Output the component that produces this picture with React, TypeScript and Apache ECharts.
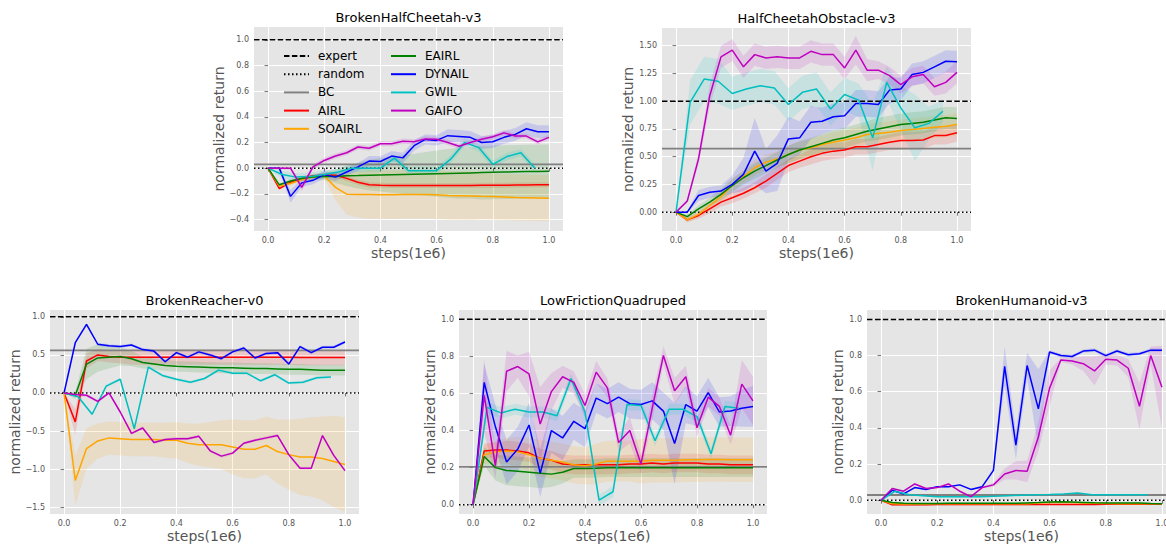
import React, { useEffect, useRef } from "react";
import * as echarts from "echarts";

// ---------- shared ----------
const X04 = [0, 0.04, 0.08, 0.12, 0.16, 0.2, 0.24, 0.28, 0.32, 0.36, 0.4, 0.44, 0.48, 0.52, 0.56, 0.6, 0.64, 0.68, 0.72, 0.76, 0.8, 0.84, 0.88, 0.92, 0.96, 1.0];
const X05 = [0, 0.05, 0.1, 0.15, 0.2, 0.25, 0.3, 0.35, 0.4, 0.45, 0.5, 0.55, 0.6, 0.65, 0.7, 0.75, 0.8, 0.85, 0.9, 0.95];
const X_TICKS = [0, 0.2, 0.4, 0.6, 0.8, 1.0];
const EXPERT = 1.0;
const RANDOM = 0.0;
const METHODS = ["AIRL", "SOAIRL", "EAIRL", "DYNAIL", "GWIL", "GAIFO"];
const COLORS: Record<string, string> = {
  AIRL: "#ff0000",
  SOAIRL: "#ffa500",
  EAIRL: "#008000",
  DYNAIL: "#0000ff",
  GWIL: "#00bfbf",
  GAIFO: "#bf00bf",
};

// ---------- BrokenHalfCheetah-v3 ----------
const cheetahTicks = [-0.4, -0.2, 0, 0.2, 0.4, 0.6, 0.8, 1.0];
const cheetahBC = 0.03;
const cheetahAIRL = [0, -0.16, -0.11, -0.08, -0.06, -0.055, -0.055, -0.08, -0.11, -0.13, -0.133, -0.135, -0.135, -0.135, -0.135, -0.135, -0.135, -0.135, -0.135, -0.134, -0.134, -0.133, -0.132, -0.131, -0.13, -0.13];
const cheetahAIRLStd = [0, 0.01, 0.015, 0.015, 0.015, 0.015, 0.02, 0.02, 0.02, 0.02, 0.02, 0.02, 0.02, 0.02, 0.02, 0.02, 0.02, 0.02, 0.02, 0.02, 0.02, 0.02, 0.02, 0.02, 0.02, 0.02];
const cheetahSOAIRL = [0, -0.14, -0.12, -0.09, -0.07, -0.06, -0.15, -0.203, -0.205, -0.205, -0.207, -0.207, -0.205, -0.205, -0.205, -0.207, -0.213, -0.215, -0.217, -0.22, -0.222, -0.225, -0.228, -0.23, -0.232, -0.234];
const cheetahSOAIRLStd = [0, 0.01, 0.015, 0.015, 0.015, 0.02, 0.1, 0.16, 0.18, 0.19, 0.19, 0.19, 0.19, 0.19, 0.19, 0.19, 0.19, 0.19, 0.19, 0.18, 0.18, 0.18, 0.18, 0.18, 0.18, 0.18];
const cheetahEAIRL = [0, -0.13, -0.1, -0.08, -0.07, -0.065, -0.065, -0.06, -0.058, -0.055, -0.053, -0.051, -0.049, -0.047, -0.045, -0.043, -0.041, -0.039, -0.037, -0.035, -0.033, -0.031, -0.029, -0.027, -0.026, -0.025];
const cheetahEAIRLStd = [0, 0.01, 0.015, 0.02, 0.02, 0.03, 0.05, 0.08, 0.1, 0.12, 0.13, 0.14, 0.15, 0.16, 0.17, 0.18, 0.19, 0.2, 0.2, 0.21, 0.21, 0.21, 0.21, 0.21, 0.21, 0.21];
const cheetahDYNAIL = [0, 0, -0.22, -0.115, -0.095, -0.05, -0.07, -0.03, 0.01, 0.055, 0.052, 0.094, 0.08, 0.175, 0.224, 0.216, 0.253, 0.247, 0.24, 0.2, 0.206, 0.24, 0.263, 0.307, 0.284, 0.284];
const cheetahDYNAILStd = [0, 0.01, 0.05, 0.03, 0.03, 0.03, 0.03, 0.03, 0.03, 0.04, 0.04, 0.04, 0.04, 0.04, 0.04, 0.04, 0.05, 0.05, 0.05, 0.05, 0.05, 0.05, 0.05, 0.05, 0.05, 0.05];
const cheetahGWIL = [0, -0.05, -0.07, -0.065, -0.05, -0.03, 0.0, 0.0, 0.0, 0.078, -0.02, -0.02, -0.02, 0.07, 0.2, 0.16, 0.03, 0.09, 0.12, 0.0];
const cheetahGWILStd = [0, 0.03, 0.03, 0.03, 0.03, 0.03, 0.03, 0.03, 0.03, 0.03, 0.03, 0.03, 0.03, 0.03, 0.03, 0.03, 0.03, 0.03, 0.03, 0.03];
const cheetahGAIFO = [0, 0, 0, -0.15, 0.01, 0.06, 0.095, 0.12, 0.165, 0.155, 0.19, 0.19, 0.21, 0.205, 0.228, 0.225, 0.2, 0.17, 0.2, 0.225, 0.245, 0.275, 0.25, 0.25, 0.205, 0.24];
const cheetahGAIFOStd = [0, 0.01, 0.01, 0.03, 0.02, 0.02, 0.02, 0.02, 0.02, 0.02, 0.02, 0.02, 0.02, 0.02, 0.02, 0.02, 0.02, 0.02, 0.02, 0.02, 0.02, 0.02, 0.02, 0.02, 0.02, 0.02];

// ---------- HalfCheetahObstacle-v3 ----------
const obstacleTicks = [0, 0.25, 0.5, 0.75, 1.0, 1.25, 1.5];
const obstacleBC = 0.572;
const obstacleAIRL = [0, -0.07, -0.03, 0.03, 0.09, 0.13, 0.17, 0.22, 0.28, 0.35, 0.42, 0.46, 0.5, 0.53, 0.55, 0.56, 0.59, 0.59, 0.61, 0.63, 0.645, 0.645, 0.65, 0.69, 0.69, 0.715];
const obstacleAIRLStd = [0, 0.02, 0.03, 0.04, 0.04, 0.05, 0.05, 0.05, 0.06, 0.06, 0.06, 0.06, 0.07, 0.07, 0.07, 0.07, 0.07, 0.07, 0.07, 0.07, 0.08, 0.08, 0.08, 0.08, 0.08, 0.08];
const obstacleSOAIRL = [0, -0.07, -0.02, 0.06, 0.14, 0.24, 0.32, 0.4, 0.45, 0.48, 0.52, 0.56, 0.58, 0.61, 0.63, 0.65, 0.67, 0.7, 0.71, 0.72, 0.735, 0.745, 0.755, 0.765, 0.775, 0.79];
const obstacleSOAIRLStd = [0, 0.02, 0.03, 0.04, 0.05, 0.06, 0.06, 0.07, 0.07, 0.07, 0.08, 0.08, 0.08, 0.08, 0.09, 0.09, 0.09, 0.09, 0.1, 0.1, 0.1, 0.1, 0.1, 0.1, 0.1, 0.1];
const obstacleEAIRL = [0, -0.04, 0.03, 0.09, 0.16, 0.24, 0.31, 0.37, 0.42, 0.47, 0.52, 0.56, 0.59, 0.62, 0.65, 0.67, 0.7, 0.73, 0.75, 0.77, 0.79, 0.8, 0.81, 0.83, 0.85, 0.845];
const obstacleEAIRLStd = [0, 0.02, 0.03, 0.04, 0.05, 0.06, 0.06, 0.07, 0.07, 0.07, 0.08, 0.08, 0.08, 0.08, 0.09, 0.09, 0.09, 0.09, 0.1, 0.1, 0.1, 0.1, 0.1, 0.1, 0.1, 0.1];
const obstacleDYNAIL = [0, 0, 0.15, 0.18, 0.19, 0.25, 0.34, 0.55, 0.37, 0.44, 0.66, 0.67, 0.81, 0.82, 0.86, 0.87, 0.98, 0.98, 0.97, 1.1, 1.11, 1.24, 1.26, 1.31, 1.36, 1.355];
const obstacleDYNAILStd = [0, 0.01, 0.05, 0.05, 0.05, 0.08, 0.15, 0.3, 0.2, 0.25, 0.2, 0.15, 0.15, 0.12, 0.12, 0.12, 0.12, 0.12, 0.12, 0.12, 0.1, 0.1, 0.1, 0.1, 0.1, 0.1];
const obstacleGWIL = [0, 0.99, 1.2, 1.18, 1.07, 1.11, 1.14, 1.12, 0.97, 1.08, 1.11, 0.93, 1.06, 1.01, 0.67, 1.17, 0.94, 0.76, 0.8, 0.91];
const obstacleGWILStd = [0, 0.2, 0.2, 0.2, 0.15, 0.15, 0.15, 0.15, 0.15, 0.15, 0.15, 0.15, 0.15, 0.15, 0.3, 0.15, 0.2, 0.3, 0.15, 0.1];
const obstacleGAIFO = [0, 0.1, 0.48, 1.05, 1.4, 1.46, 1.31, 1.42, 1.39, 1.4, 1.39, 1.39, 1.45, 1.42, 1.42, 1.3, 1.46, 1.28, 1.28, 1.23, 1.15, 1.22, 1.24, 1.13, 1.17, 1.26];
const obstacleGAIFOStd = [0, 0.02, 0.05, 0.1, 0.1, 0.1, 0.1, 0.1, 0.1, 0.1, 0.1, 0.1, 0.1, 0.1, 0.1, 0.1, 0.13, 0.1, 0.08, 0.08, 0.08, 0.08, 0.08, 0.08, 0.1, 0.1];

// ---------- BrokenReacher-v0 ----------
const reacherTicks = [-1.5, -1.0, -0.5, 0, 0.5, 1.0];
const reacherBC = 0.56;
const reacherAIRL = [0, -0.38, 0.42, 0.5, 0.48, 0.47, 0.47, 0.47, 0.47, 0.47, 0.47, 0.47, 0.47, 0.47, 0.47, 0.47, 0.47, 0.47, 0.47, 0.47, 0.47, 0.465, 0.465, 0.465, 0.465, 0.465];
const reacherAIRLStd = [0, 0.17, 0.1, 0.08, 0.08, 0.08, 0.1, 0.1, 0.1, 0.1, 0.1, 0.1, 0.1, 0.1, 0.1, 0.1, 0.1, 0.1, 0.1, 0.1, 0.1, 0.1, 0.1, 0.1, 0.1, 0.1];
const reacherSOAIRL = [0, -1.15, -0.73, -0.63, -0.59, -0.6, -0.61, -0.61, -0.61, -0.62, -0.62, -0.66, -0.68, -0.68, -0.68, -0.71, -0.74, -0.74, -0.69, -0.77, -0.81, -0.84, -0.84, -0.86, -0.9, -0.94];
const reacherSOAIRLStd = [0, 0.33, 0.27, 0.23, 0.22, 0.22, 0.22, 0.22, 0.22, 0.23, 0.24, 0.26, 0.28, 0.3, 0.32, 0.36, 0.38, 0.38, 0.38, 0.42, 0.46, 0.5, 0.52, 0.55, 0.6, 0.62];
const reacherEAIRL = [0, -0.03, 0.38, 0.46, 0.47, 0.48, 0.45, 0.4, 0.38, 0.36, 0.35, 0.345, 0.34, 0.335, 0.33, 0.33, 0.325, 0.32, 0.32, 0.315, 0.31, 0.31, 0.305, 0.3, 0.3, 0.3];
const reacherEAIRLStd = [0, 0.05, 0.2, 0.18, 0.15, 0.12, 0.1, 0.08, 0.07, 0.07, 0.07, 0.07, 0.07, 0.07, 0.07, 0.07, 0.07, 0.07, 0.07, 0.07, 0.07, 0.07, 0.07, 0.07, 0.07, 0.07];
const reacherDYNAIL = [0, 0.66, 0.9, 0.64, 0.62, 0.61, 0.63, 0.57, 0.55, 0.41, 0.53, 0.47, 0.54, 0.5, 0.45, 0.54, 0.59, 0.46, 0.52, 0.53, 0.38, 0.61, 0.53, 0.6, 0.6, 0.67];
const reacherDYNAILStd = [0, 0.02, 0.02, 0.02, 0.02, 0.02, 0.02, 0.02, 0.02, 0.02, 0.02, 0.02, 0.02, 0.02, 0.02, 0.02, 0.02, 0.02, 0.02, 0.02, 0.02, 0.02, 0.02, 0.02, 0.02, 0.02];
const reacherGWIL = [0, -0.05, -0.28, 0.09, 0.18, -0.47, 0.34, 0.23, 0.18, 0.14, 0.19, 0.3, 0.26, 0.26, 0.16, 0.24, 0.13, 0.14, 0.2, 0.21];
const reacherGWILStd = [0, 0.02, 0.02, 0.02, 0.02, 0.02, 0.02, 0.02, 0.02, 0.02, 0.02, 0.02, 0.02, 0.02, 0.02, 0.02, 0.02, 0.02, 0.02, 0.02];
const reacherGAIFO = [0, -0.02, -0.03, -0.11, 0.0, -0.25, -0.53, -0.46, -0.65, -0.61, -0.6, -0.6, -0.57, -0.76, -0.83, -0.79, -0.66, -0.62, -0.59, -0.56, -0.81, -0.99, -0.99, -0.56, -0.82, -1.02];
const reacherGAIFOStd = [0, 0.02, 0.02, 0.02, 0.02, 0.02, 0.02, 0.02, 0.02, 0.02, 0.02, 0.02, 0.02, 0.02, 0.02, 0.02, 0.02, 0.02, 0.02, 0.02, 0.02, 0.02, 0.02, 0.02, 0.02, 0.02];

// ---------- LowFrictionQuadruped ----------
const quadTicks = [0, 0.2, 0.4, 0.6, 0.8, 1.0];
const quadBC = 0.204;
const quadAIRL = [0, 0.29, 0.295, 0.295, 0.29, 0.28, 0.25, 0.24, 0.22, 0.215, 0.215, 0.215, 0.215, 0.215, 0.22, 0.22, 0.225, 0.22, 0.225, 0.225, 0.225, 0.22, 0.22, 0.215, 0.215, 0.215];
const quadAIRLStd = [0, 0.04, 0.04, 0.05, 0.05, 0.05, 0.05, 0.05, 0.05, 0.05, 0.05, 0.05, 0.05, 0.05, 0.05, 0.05, 0.05, 0.05, 0.05, 0.05, 0.05, 0.05, 0.05, 0.05, 0.05, 0.05];
const quadSOAIRL = [0, 0.27, 0.285, 0.29, 0.285, 0.27, 0.25, 0.24, 0.23, 0.215, 0.21, 0.22, 0.235, 0.235, 0.235, 0.235, 0.24, 0.24, 0.24, 0.242, 0.243, 0.244, 0.244, 0.243, 0.243, 0.243];
const quadSOAIRLStd = [0, 0.05, 0.06, 0.07, 0.08, 0.09, 0.1, 0.1, 0.1, 0.1, 0.1, 0.11, 0.11, 0.11, 0.11, 0.12, 0.12, 0.12, 0.12, 0.12, 0.12, 0.12, 0.12, 0.12, 0.12, 0.12];
const quadEAIRL = [0, 0.26, 0.2, 0.185, 0.18, 0.175, 0.17, 0.165, 0.175, 0.195, 0.195, 0.197, 0.2, 0.2, 0.2, 0.2, 0.2, 0.2, 0.2, 0.2, 0.2, 0.2, 0.2, 0.2, 0.2, 0.2];
const quadEAIRLStd = [0, 0.05, 0.07, 0.08, 0.08, 0.08, 0.08, 0.07, 0.06, 0.05, 0.05, 0.05, 0.05, 0.05, 0.05, 0.05, 0.05, 0.05, 0.05, 0.05, 0.05, 0.05, 0.05, 0.05, 0.05, 0.05];
const quadDYNAIL = [0, 0.66, 0.42, 0.23, 0.3, 0.43, 0.17, 0.4, 0.36, 0.45, 0.41, 0.575, 0.545, 0.58, 0.545, 0.54, 0.56, 0.505, 0.33, 0.54, 0.505, 0.605, 0.5, 0.505, 0.52, 0.53];
const quadDYNAILStd = [0, 0.1, 0.12, 0.12, 0.12, 0.12, 0.13, 0.12, 0.12, 0.1, 0.1, 0.08, 0.08, 0.08, 0.08, 0.08, 0.1, 0.1, 0.22, 0.1, 0.08, 0.08, 0.08, 0.08, 0.1, 0.11];
const quadGWIL = [0, 0.525, 0.495, 0.515, 0.5, 0.5, 0.48, 0.68, 0.5, 0.025, 0.07, 0.54, 0.535, 0.345, 0.515, 0.515, 0.475, 0.275, 0.53, 0.52];
const quadGWILStd = [0, 0.03, 0.03, 0.03, 0.03, 0.03, 0.03, 0.03, 0.03, 0.03, 0.03, 0.03, 0.03, 0.03, 0.03, 0.03, 0.03, 0.03, 0.03, 0.03];
const quadGAIFO = [0, 0.59, 0.21, 0.72, 0.745, 0.705, 0.435, 0.61, 0.69, 0.66, 0.535, 0.715, 0.63, 0.335, 0.4, 0.22, 0.52, 0.805, 0.615, 0.69, 0.415, 0.58, 0.53, 0.375, 0.65, 0.56];
const quadGAIFOStd = [0, 0.2, 0.07, 0.11, 0.06, 0.12, 0.2, 0.1, 0.06, 0.06, 0.06, 0.06, 0.05, 0.05, 0.07, 0.05, 0.07, 0.05, 0.07, 0.06, 0.05, 0.05, 0.05, 0.05, 0.13, 0.13];

// ---------- BrokenHumanoid-v3 ----------
const humanoidTicks = [0, 0.2, 0.4, 0.6, 0.8, 1.0];
const humanoidBC = 0.029;
const humanoidAIRL = [0, -0.025, -0.025, -0.025, -0.025, -0.024, -0.024, -0.024, -0.024, -0.024, -0.024, -0.024, -0.024, -0.024, -0.023, -0.023, -0.023, -0.023, -0.023, -0.023, -0.022, -0.022, -0.022, -0.022, -0.022, -0.022];
const humanoidAIRLStd = [0, 0.004, 0.004, 0.004, 0.004, 0.004, 0.004, 0.004, 0.004, 0.004, 0.004, 0.004, 0.004, 0.004, 0.004, 0.004, 0.004, 0.004, 0.004, 0.004, 0.004, 0.004, 0.004, 0.004, 0.004, 0.004];
const humanoidSOAIRL = [0, -0.02, -0.021, -0.021, -0.021, -0.02, -0.02, -0.02, -0.02, -0.02, -0.02, -0.02, -0.02, -0.019, -0.015, -0.012, -0.012, -0.013, -0.015, -0.017, -0.018, -0.019, -0.02, -0.02, -0.02, -0.02];
const humanoidSOAIRLStd = [0, 0.004, 0.004, 0.004, 0.004, 0.004, 0.004, 0.004, 0.004, 0.004, 0.004, 0.004, 0.004, 0.004, 0.004, 0.004, 0.004, 0.004, 0.004, 0.004, 0.004, 0.004, 0.004, 0.004, 0.004, 0.004];
const humanoidEAIRL = [0, -0.012, -0.017, -0.018, -0.018, -0.018, -0.017, -0.017, -0.017, -0.017, -0.017, -0.017, -0.017, -0.015, -0.013, -0.01, -0.008, -0.01, -0.012, -0.014, -0.015, -0.015, -0.015, -0.015, -0.018, -0.02];
const humanoidEAIRLStd = [0, 0.004, 0.004, 0.004, 0.004, 0.004, 0.004, 0.004, 0.004, 0.004, 0.004, 0.004, 0.004, 0.004, 0.004, 0.004, 0.004, 0.004, 0.004, 0.004, 0.004, 0.004, 0.004, 0.004, 0.004, 0.004];
const humanoidDYNAIL = [0, 0.055, 0.035, 0.07, 0.06, 0.075, 0.075, 0.085, 0.06, 0.075, 0.165, 0.74, 0.305, 0.745, 0.505, 0.82, 0.8, 0.795, 0.825, 0.83, 0.8, 0.825, 0.805, 0.81, 0.83, 0.83];
const humanoidDYNAILStd = [0, 0.005, 0.005, 0.005, 0.005, 0.005, 0.005, 0.005, 0.005, 0.005, 0.01, 0.11, 0.08, 0.07, 0.22, 0.01, 0.01, 0.01, 0.01, 0.01, 0.01, 0.01, 0.01, 0.01, 0.01, 0.01];
const humanoidGWIL = [0, 0.05, 0.03, 0.025, 0.02, 0.02, 0.02, 0.02, 0.022, 0.025, 0.028, 0.03, 0.032, 0.035, 0.04, 0.03, 0.03, 0.03, 0.03, 0.03];
const humanoidGWILStd = [0, 0.004, 0.004, 0.004, 0.004, 0.004, 0.004, 0.004, 0.004, 0.004, 0.004, 0.004, 0.004, 0.004, 0.004, 0.004, 0.004, 0.004, 0.004, 0.004];
const humanoidGAIFO = [0, 0.065, 0.05, 0.09, 0.065, 0.07, 0.09, 0.05, 0.02, 0.07, 0.085, 0.145, 0.165, 0.16, 0.35, 0.62, 0.775, 0.77, 0.755, 0.715, 0.78, 0.775, 0.73, 0.52, 0.8, 0.625];
const humanoidGAIFOStd = [0, 0.005, 0.005, 0.005, 0.005, 0.005, 0.005, 0.005, 0.005, 0.005, 0.01, 0.03, 0.05, 0.06, 0.08, 0.1, 0.01, 0.02, 0.04, 0.08, 0.03, 0.03, 0.05, 0.13, 0.05, 0.23];

const FONT = "DejaVu Sans";
const XMIN = -0.05;
const XMAX = 1.05;

type Run = { name: string; x: number[]; mean: number[]; std: number[] };
type Env = {
  title: string;
  grid: { left: number; top: number; width: number; height: number };
  yMin: number;
  yMax: number;
  yTicks: number[];
  dec: number;
  bc: number;
  runs: Run[];
};

function runs(a: number[][]): Run[] {
  // order: AIRL, SOAIRL, EAIRL, DYNAIL, GWIL, GAIFO; each pair mean/std
  return METHODS.map((m, i) => ({
    name: m,
    x: m === "GWIL" ? X05 : X04,
    mean: a[i * 2],
    std: a[i * 2 + 1],
  }));
}

const ENVS: Env[] = [
  {
    title: "BrokenHalfCheetah-v3",
    grid: { left: 254, top: 27, width: 309, height: 204 },
    yMin: -0.49, yMax: 1.1, yTicks: cheetahTicks, dec: 1, bc: cheetahBC,
    runs: runs([cheetahAIRL, cheetahAIRLStd, cheetahSOAIRL, cheetahSOAIRLStd, cheetahEAIRL, cheetahEAIRLStd, cheetahDYNAIL, cheetahDYNAILStd, cheetahGWIL, cheetahGWILStd, cheetahGAIFO, cheetahGAIFOStd]),
  },
  {
    title: "HalfCheetahObstacle-v3",
    grid: { left: 662, top: 28, width: 309, height: 203 },
    yMin: -0.17, yMax: 1.66, yTicks: obstacleTicks, dec: 2, bc: obstacleBC,
    runs: runs([obstacleAIRL, obstacleAIRLStd, obstacleSOAIRL, obstacleSOAIRLStd, obstacleEAIRL, obstacleEAIRLStd, obstacleDYNAIL, obstacleDYNAILStd, obstacleGWIL, obstacleGWILStd, obstacleGAIFO, obstacleGAIFOStd]),
  },
  {
    title: "BrokenReacher-v0",
    grid: { left: 50, top: 310, width: 309, height: 204 },
    yMin: -1.59, yMax: 1.09, yTicks: reacherTicks, dec: 1, bc: reacherBC,
    runs: runs([reacherAIRL, reacherAIRLStd, reacherSOAIRL, reacherSOAIRLStd, reacherEAIRL, reacherEAIRLStd, reacherDYNAIL, reacherDYNAILStd, reacherGWIL, reacherGWILStd, reacherGAIFO, reacherGAIFOStd]),
  },
  {
    title: "LowFrictionQuadruped",
    grid: { left: 459, top: 310, width: 308, height: 204 },
    yMin: -0.05, yMax: 1.05, yTicks: quadTicks, dec: 1, bc: quadBC,
    runs: runs([quadAIRL, quadAIRLStd, quadSOAIRL, quadSOAIRLStd, quadEAIRL, quadEAIRLStd, quadDYNAIL, quadDYNAILStd, quadGWIL, quadGWILStd, quadGAIFO, quadGAIFOStd]),
  },
  {
    title: "BrokenHumanoid-v3",
    grid: { left: 867, top: 310, width: 309, height: 204 },
    yMin: -0.076, yMax: 1.052, yTicks: humanoidTicks, dec: 1, bc: humanoidBC,
    runs: runs([humanoidAIRL, humanoidAIRLStd, humanoidSOAIRL, humanoidSOAIRLStd, humanoidEAIRL, humanoidEAIRLStd, humanoidDYNAIL, humanoidDYNAILStd, humanoidGWIL, humanoidGWILStd, humanoidGAIFO, humanoidGAIFOStd]),
  },
];

function fmt(dec: number) {
  return (v: number) => (v < -1e-9 ? "\u2212" : "") + Math.abs(v).toFixed(dec);
}

function buildOption() {
  const grids: any[] = [];
  const xAxes: any[] = [];
  const yAxes: any[] = [];
  const series: any[] = [];
  const graphics: any[] = [];

  ENVS.forEach((env, i) => {
    grids.push({
      ...env.grid,
      show: true,
      backgroundColor: "#e5e5e5",
      borderWidth: 0,
      containLabel: false,
      outerBoundsMode: "none",
    });
    xAxes.push({
      type: "value",
      gridIndex: i,
      min: XMIN,
      max: XMAX,
      axisLine: { show: false },
      axisTick: { show: true, length: 3.5, inside: false, lineStyle: { color: "#555", width: 0.8 }, customValues: X_TICKS },
      axisLabel: { customValues: X_TICKS, formatter: fmt(1), color: "#555", fontSize: 8, margin: 5, fontFamily: FONT },
      splitLine: { show: true, lineStyle: { color: "#ffffff", width: 1 } },
      name: "steps(1e6)",
      nameLocation: "middle",
      nameGap: 15,
      nameTextStyle: { fontSize: 14, color: "#555", fontFamily: FONT },
    });
    yAxes.push({
      type: "value",
      gridIndex: i,
      min: env.yMin,
      max: env.yMax,
      axisLine: { show: false },
      axisTick: { show: true, length: 3.5, inside: false, lineStyle: { color: "#555", width: 0.8 }, customValues: env.yTicks },
      axisLabel: { customValues: env.yTicks, formatter: fmt(env.dec), color: "#555", fontSize: 8, margin: 5, fontFamily: FONT },
      splitLine: { show: true, lineStyle: { color: "#ffffff", width: 1 } },
      name: "normalized return",
      nameLocation: "middle",
      nameRotate: 90,
      nameGap: 18,
      nameTextStyle: { fontSize: 14, color: "#555", fontFamily: FONT },
    });

    // bands
    env.runs.forEach((r) => {
      series.push({
        type: "custom",
        xAxisIndex: i,
        yAxisIndex: i,
        silent: true,
        clip: true,
        z: 1,
        data: [[0, 0]],
        renderItem: (_p: any, api: any) => {
          const pts: number[][] = [];
          for (let k = 0; k < r.x.length; k++) pts.push(api.coord([r.x[k], r.mean[k] + r.std[k]]));
          for (let k = r.x.length - 1; k >= 0; k--) pts.push(api.coord([r.x[k], r.mean[k] - r.std[k]]));
          return {
            type: "polygon",
            shape: { points: pts },
            style: { fill: COLORS[r.name], opacity: 0.13 },
            silent: true,
          };
        },
      });
    });

    // reference lines
    series.push({
      type: "line", name: "expert", xAxisIndex: i, yAxisIndex: i, symbol: "none", z: 2,
      data: [[XMIN, EXPERT], [XMAX, EXPERT]],
      lineStyle: { color: "#000", width: 1.5, type: [5.5, 2.4] },
      itemStyle: { color: "#000" },
    });
    series.push({
      type: "line", name: "random", xAxisIndex: i, yAxisIndex: i, symbol: "none", z: 2,
      data: [[XMIN, RANDOM], [XMAX, RANDOM]],
      lineStyle: { color: "#000", width: 1.5, type: [1.5, 2.5] },
      itemStyle: { color: "#000" },
    });
    series.push({
      type: "line", name: "BC", xAxisIndex: i, yAxisIndex: i, symbol: "none", z: 2,
      data: [[XMIN, env.bc], [XMAX, env.bc]],
      lineStyle: { color: "#808080", width: 1.8 },
      itemStyle: { color: "#808080" },
    });

    env.runs.forEach((r) => {
      series.push({
        type: "line",
        name: r.name,
        xAxisIndex: i,
        yAxisIndex: i,
        symbol: "none",
        z: 3,
        data: r.x.map((x, k) => [x, r.mean[k]]),
        lineStyle: { color: COLORS[r.name], width: 1.5 },
        itemStyle: { color: COLORS[r.name] },
      });
    });

    graphics.push({
      type: "text",
      x: env.grid.left + env.grid.width / 2,
      y: env.grid.top - 10,
      style: {
        text: env.title,
        fill: "#000",
        fontSize: 13,
        fontFamily: FONT,
        align: "center",
        verticalAlign: "middle",
      },
    });
  });

  const legendBase = {
    orient: "vertical",
    top: 50,
    itemWidth: 25,
    itemHeight: 12,
    itemGap: 6.2,
    padding: 0,
    selectedMode: false,
    itemStyle: { opacity: 0 },
    textStyle: { fontSize: 12, color: "#000", fontFamily: FONT, padding: [0, 0, 0, 4] },
  };

  return {
    animation: false,
    backgroundColor: "#ffffff",
    textStyle: { fontFamily: FONT },
    grid: grids,
    xAxis: xAxes,
    yAxis: yAxes,
    series,
    legend: [
      { ...legendBase, left: 283, data: ["expert", "random", "BC", "AIRL", "SOAIRL"] },
      { ...legendBase, left: 390, data: ["EAIRL", "DYNAIL", "GWIL", "GAIFO"] },
    ],
    graphic: graphics,
  };
}

export default function App() {
  const ref = useRef<HTMLDivElement>(null);
  useEffect(() => {
    if (!ref.current) return;
    const chart = echarts.init(ref.current, undefined, { renderer: "svg" });
    chart.setOption(buildOption() as any);
    return () => chart.dispose();
  }, []);
  return (
    <div
      ref={ref}
      style={{ position: "fixed", left: 0, top: 0, width: 1166, height: 544, background: "#fff" }}
    />
  );
}
